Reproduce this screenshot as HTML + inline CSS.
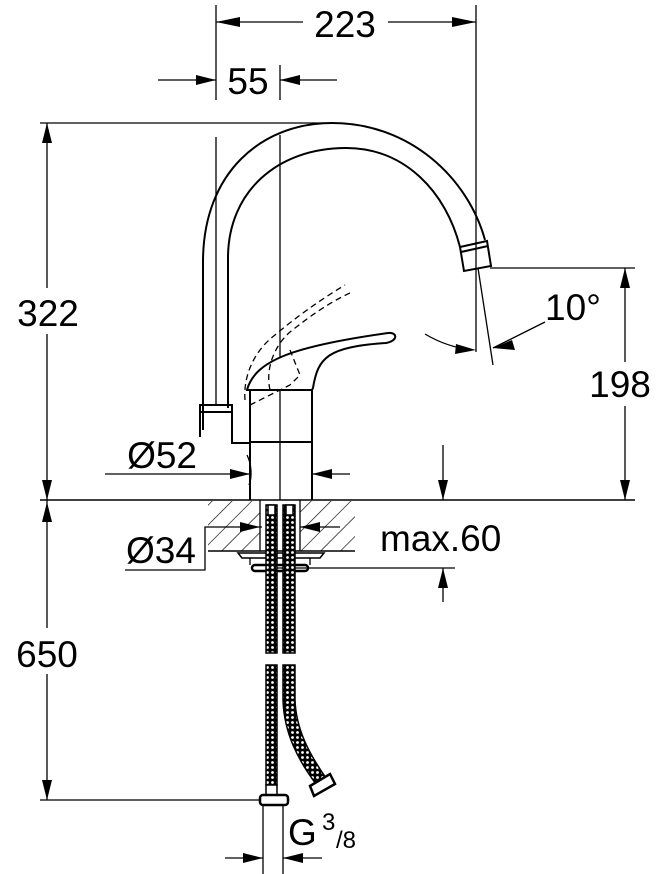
<!DOCTYPE html>
<html><head><meta charset="utf-8"><style>
html,body{margin:0;padding:0;background:#fff}
svg{display:block}
text{font-family:"Liberation Sans",Arial,sans-serif;fill:#000}
</style></head><body>
<svg width="660" height="874" viewBox="0 0 660 874" xmlns="http://www.w3.org/2000/svg">
<defs>
<pattern id="h" width="14" height="14" patternUnits="userSpaceOnUse" patternTransform="rotate(45)">
<line x1="0" y1="0" x2="0" y2="14" stroke="#000" stroke-width="1.3"/>
</pattern>
<pattern id="braid" width="5" height="5" patternUnits="userSpaceOnUse">
<rect width="5" height="5" fill="#000"/><circle cx="2.5" cy="2.5" r="1.4" fill="#fff"/>
</pattern>
</defs>
<g stroke="#000" fill="none" stroke-width="1.3">
<!-- 223 dim -->
<line x1="216" y1="5" x2="216" y2="100"/>
<line x1="476" y1="5" x2="476" y2="240"/>
<line x1="216" y1="22" x2="303" y2="22"/>
<line x1="388" y1="22" x2="476" y2="22"/>
<!-- 55 -->
<line x1="280" y1="65" x2="280" y2="100"/>
<line x1="158" y1="80" x2="216" y2="80"/>
<line x1="280" y1="80" x2="337" y2="80"/>
<!-- top line -->
<line x1="40" y1="123" x2="330" y2="123"/>
<!-- 322 / 650 -->
<line x1="47" y1="123" x2="47" y2="800"/>
<line x1="40" y1="500" x2="635" y2="500" stroke-width="1.5"/>
<line x1="40" y1="800" x2="265" y2="800"/>
<!-- 198 -->
<line x1="490" y1="268" x2="635" y2="268"/>
<line x1="625" y1="268" x2="625" y2="500"/>
<!-- centerlines -->
<line x1="280" y1="135" x2="280" y2="500"/>
<line x1="216" y1="137" x2="216" y2="405"/>
<!-- spout -->
<path stroke-width="2" d="M203,430 L203,262 C203,172 262,123 332,123 C410,123 468,178 485,240"/>
<path stroke-width="2" d="M228,408 L228,258 C228,192 277,148 346,148 C405,148 446,192 460,247"/>
<path stroke-width="2" d="M460,247 L487,241 L491,266 L464,271 Z"/>
<line x1="461" y1="252" x2="488" y2="246" stroke-width="2"/>
<!-- lower pipe -->
<rect x="200" y="405" width="32" height="7" stroke-width="2"/>
<path stroke-width="2" d="M232,412 L232,443 L250,443"/>
<line x1="200" y1="412" x2="200" y2="437" stroke-width="2"/>
<path d="M247,455 C252,465 252,478 249,485"/>
<!-- body -->
<path stroke-width="2" d="M250,500 L250,390 L312,390 L312,500"/>
<line x1="250" y1="442" x2="312" y2="442" stroke-width="2"/>
<!-- handle -->
<path stroke-width="2" fill="#fff" d="M247,390 C255,360 295,346 388,333 C398,332 398,341 386,343 C328,347 318,357 313,388 L312,390 Z"/>
<!-- dashed handle -->
<path stroke-dasharray="6,4" d="M245,400 C243,375 255,350 275,335 C295,318 320,300 345,285"/>
<path stroke-dasharray="6,4" d="M270,390 C265,368 275,345 290,332 C310,316 330,302 352,292"/>
<path stroke-dasharray="6,4" d="M250,405 L290,385 L300,375 L290,350"/>
<!-- 10 deg -->
<line x1="476" y1="240" x2="476" y2="352"/>
<line x1="478" y1="268" x2="493" y2="365"/>
<path d="M425,334 C440,343 455,348 472,350"/>
<line x1="493" y1="348" x2="545" y2="322"/>
<!-- Ø52 -->
<line x1="105" y1="474" x2="250" y2="474"/>
<line x1="312" y1="474" x2="350" y2="474"/>
<!-- arrows 443 -->
<line x1="443" y1="445" x2="443" y2="500"/>
<line x1="270" y1="568" x2="455" y2="568"/>
<line x1="443" y1="568" x2="443" y2="602"/>
<!-- countertop -->
<rect x="208" y="501" width="52" height="50" fill="url(#h)" stroke="none"/>
<rect x="300" y="501" width="55" height="50" fill="url(#h)" stroke="none"/>
<line x1="208" y1="551" x2="355" y2="551" stroke-width="1.5"/>
<line x1="260" y1="500" x2="260" y2="551"/>
<line x1="300" y1="500" x2="300" y2="551"/>
<!-- Ø34 -->
<polyline points="125,570 205,570 205,527 262,527"/>
<line x1="300" y1="527" x2="340" y2="527"/>
<!-- plate & nut -->
<path stroke-width="1.5" d="M238,553 L324,553 L320,558 L242,558 Z"/>
<line x1="250" y1="558" x2="250" y2="565"/>
<line x1="310" y1="558" x2="310" y2="565"/>
<rect x="252" y="565" width="56" height="6" rx="3" stroke-width="2.5"/>
<!-- G3/8 -->
<line x1="263" y1="805" x2="263" y2="874"/>
<line x1="283" y1="805" x2="283" y2="874"/>
<line x1="225" y1="858" x2="263" y2="858"/>
<line x1="283" y1="858" x2="322" y2="858"/>
</g>
<!-- hoses -->
<g stroke="#000" stroke-width="1.5">
<rect x="266" y="505" width="11" height="148" fill="url(#braid)"/>
<rect x="283" y="505" width="12" height="148" fill="url(#braid)"/>
<rect x="266" y="665" width="11" height="120" fill="url(#braid)"/>
<path d="M283,665 L295,665 L295,700 C296,730 310,755 326,778 L316,784 C298,760 284,733 283,700 Z" fill="url(#braid)"/>
<rect x="266" y="785" width="11" height="10" fill="#fff"/>
<rect x="260" y="795" width="28" height="10" rx="3" fill="#fff" stroke-width="2.5"/>
<path d="M310,786 L330,774 L335,784 L314,796 Z" fill="#fff" stroke-width="2.5"/>
<rect x="268" y="505" width="7" height="10" fill="#fff"/>
<rect x="286" y="505" width="7" height="10" fill="#fff"/>
</g>
<!-- arrowheads -->
<g fill="#000">
<polygon points="216,22 240,17 240,27"/>
<polygon points="476,22 452,17 452,27"/>
<polygon points="216,80 196,75 196,85"/>
<polygon points="280,80 300,75 300,85"/>
<polygon points="47,123 42,143 52,143"/>
<polygon points="47,500 42,480 52,480"/>
<polygon points="47,502 42,522 52,522"/>
<polygon points="47,800 42,780 52,780"/>
<polygon points="625,268 620,288 630,288"/>
<polygon points="625,500 620,480 630,480"/>
<polygon points="250,474 230,469 230,479"/>
<polygon points="312,474 332,469 332,479"/>
<polygon points="443,500 438,480 448,480"/>
<polygon points="443,568 438,588 448,588"/>
<polygon points="260,527 240,522 240,532"/>
<polygon points="300,527 320,522 320,532"/>
<polygon points="476,350 456,344 455,354"/>
<polygon points="493,348 512,340 515,350"/>
<polygon points="263,858 243,853 243,863"/>
<polygon points="283,858 303,853 303,863"/>
</g>
<!-- labels -->
<rect x="10" y="288" width="80" height="46" fill="#fff"/>
<rect x="10" y="628" width="80" height="46" fill="#fff"/>
<rect x="583" y="362" width="74" height="44" fill="#fff"/>
<g font-size="37">
<text x="345" y="37" text-anchor="middle">223</text>
<text x="248" y="94" text-anchor="middle">55</text>
<text x="48" y="326" text-anchor="middle">322</text>
<text x="47" y="667" text-anchor="middle">650</text>
<text x="620" y="397" text-anchor="middle">198</text>
<text x="545" y="320">10°</text>
<text x="197" y="468" text-anchor="end">Ø52</text>
<text x="126" y="563">Ø34</text>
<text x="380" y="551">max.60</text>
<text x="288" y="845">G</text>
<text x="322" y="830" font-size="24">3</text>
<text x="336" y="848" font-size="24">/8</text>
</g>
</svg>
</body></html>
